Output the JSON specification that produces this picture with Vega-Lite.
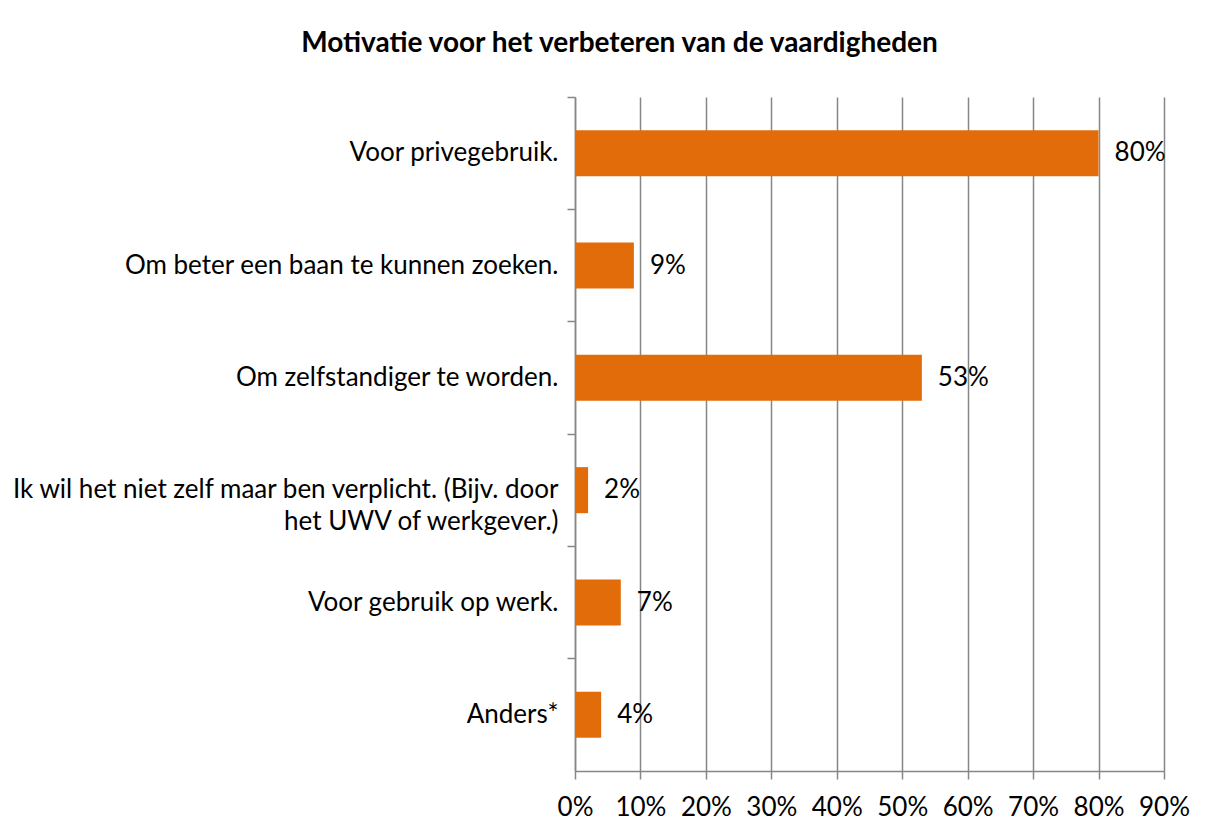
{
  "$schema": "https://vega.github.io/schema/vega-lite/v6.json",
  "autosize": {"type": "none"},
  "width": 589,
  "height": 674,
  "padding": {"left": 575, "top": 97, "right": 44, "bottom": 63},
  "background": "white",
  "title": {
    "text": "Motivatie voor het verbeteren van de vaardigheden",
    "font": "Lato",
    "fontSize": 28,
    "fontWeight": "bold",
    "color": "#000000",
    "anchor": "middle",
    "baseline": "alphabetic",
    "dx": -250,
    "offset": 16
  },
  "data": {
    "values": [
      {"cat": "Voor privegebruik.", "val": 0.80, "label": "80%"},
      {"cat": "Om beter een baan te kunnen zoeken.", "val": 0.09, "label": "9%"},
      {"cat": "Om zelfstandiger te worden.", "val": 0.53, "label": "53%"},
      {"cat": "Ik wil het niet zelf maar ben verplicht. (Bijv. door|het UWV of werkgever.)", "val": 0.02, "label": "2%"},
      {"cat": "Voor gebruik op werk.", "val": 0.07, "label": "7%"},
      {"cat": "Anders*", "val": 0.04, "label": "4%"}
    ]
  },
  "config": {
    "view": {"stroke": null},
    "font": "Lato",
    "axis": {
      "labelFont": "Lato",
      "labelFontSize": 26,
      "labelColor": "#000000",
      "domainColor": "#868686",
      "tickColor": "#868686",
      "gridColor": "#868686",
      "title": null
    }
  },
  "encoding": {
    "x": {
      "field": "val",
      "type": "quantitative",
      "scale": {"domain": [0, 0.9], "nice": false},
      "axis": {
        "format": ".0%",
        "values": [0, 0.1, 0.2, 0.3, 0.4, 0.5, 0.6, 0.7, 0.8, 0.9],
        "grid": true,
        "gridWidth": 1.5,
        "tickSize": 8,
        "tickWidth": 1.5,
        "domainWidth": 1.5,
        "labelPadding": 15,
        "labelFlush": false,
        "labelOverlap": false,
        "title": null
      }
    }
  },
  "layer": [
    {
      "mark": {"type": "bar", "color": "#E36C0A"},
      "encoding": {
        "y": {
          "field": "cat",
          "type": "nominal",
          "sort": null,
          "scale": {"paddingInner": 0.59, "paddingOuter": 0.295},
          "axis": {
            "orient": "left",
            "ticks": false,
            "domain": false,
            "labelPadding": 17,
            "labelLimit": 700,
            "labelExpr": "split(datum.label, '|')",
            "labelLineHeight": 32,
            "title": null
          }
        }
      }
    },
    {
      "mark": {"type": "text", "align": "left", "baseline": "middle", "dx": 16, "fontSize": 26, "font": "Lato", "color": "#000000"},
      "encoding": {
        "y": {
          "field": "cat",
          "type": "nominal",
          "sort": null,
          "scale": {"type": "band", "padding": 0},
          "axis": {
            "orient": "left",
            "bandPosition": 0,
            "labels": false,
            "ticks": true,
            "tickSize": 8,
            "tickWidth": 1.5,
            "domain": true,
            "domainWidth": 1.5,
            "title": null
          }
        },
        "text": {"field": "label"}
      }
    }
  ],
  "resolve": {"scale": {"y": "independent"}, "axis": {"y": "independent"}}
}
